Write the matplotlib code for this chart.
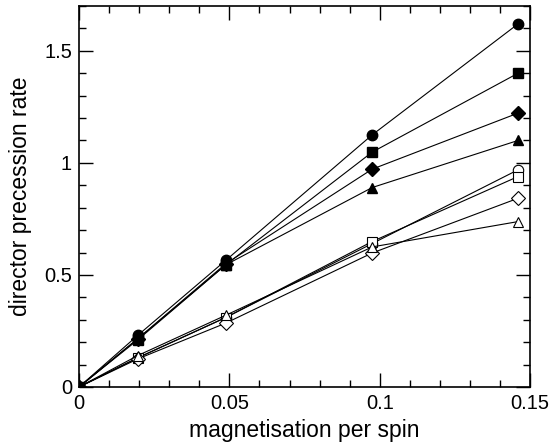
import numpy as np
import matplotlib.pyplot as plt
from matplotlib.ticker import MultipleLocator

plt.rcParams['font.family'] = ['Liberation Sans', 'DejaVu Sans']

# magnetisation per spin (same for every series)
m = [0.0, 0.0195, 0.0488, 0.0975, 0.146]

# director precession rate, filled symbols
rate_circle_f = [0.0, 0.23, 0.565, 1.125, 1.62]
rate_square_f = [0.0, 0.21, 0.545, 1.048, 1.40]
rate_diamond_f = [0.0, 0.215, 0.55, 0.972, 1.222]
rate_triangle_f = [0.0, 0.215, 0.545, 0.89, 1.10]

# open symbols
rate_circle_o = [0.0, 0.13, 0.31, 0.64, 0.969]
rate_square_o = [0.0, 0.13, 0.31, 0.649, 0.939]
rate_diamond_o = [0.0, 0.125, 0.285, 0.598, 0.842]
rate_triangle_o = [0.0, 0.14, 0.32, 0.625, 0.738]

xticks = [0, 0.05, 0.1, 0.15]
xticklabels = ['0', '0.05', '0.1', '0.15']
yticks = [0, 0.5, 1, 1.5]
yticklabels = ['0', '0.5', '1', '1.5']

fig = plt.figure(figsize=(5.51, 4.44), dpi=100)
ax = fig.add_axes([0.1434, 0.1284, 0.8186, 0.8581])

filled = [(rate_circle_f, 'o'), (rate_square_f, 's'),
          (rate_diamond_f, 'D'), (rate_triangle_f, '^')]
opened = [(rate_circle_o, 'o'), (rate_square_o, 's'),
          (rate_diamond_o, 'D'), (rate_triangle_o, '^')]

for y, mk in opened:
    ax.plot(m, y, color='k', linewidth=0.8, marker=mk, markersize=7.5,
            markerfacecolor='white', markeredgecolor='k', markeredgewidth=0.8)
for y, mk in filled:
    ax.plot(m, y, color='k', linewidth=0.8, marker=mk, markersize=7.5,
            markerfacecolor='k', markeredgecolor='k')

ax.set_xlim(0, 0.15)
ax.set_ylim(0, 1.7)
ax.xaxis.set_minor_locator(MultipleLocator(0.01))
ax.yaxis.set_minor_locator(MultipleLocator(0.1))
ax.set_xticks(xticks)
ax.set_xticklabels(xticklabels)
ax.set_yticks(yticks)
ax.set_yticklabels(yticklabels)
ax.tick_params(which='both', direction='in', top=True, right=True, labelsize=14.5, width=1, pad=5)
ax.tick_params(which='major', length=10)
ax.tick_params(which='minor', length=5)
for s in ax.spines.values():
    s.set_linewidth(1.2)

ax.set_xlabel('magnetisation per spin', fontsize=16.5)
ax.xaxis.set_label_coords(0.5, -0.085)
ax.set_ylabel('director precession rate', fontsize=16.5)
ax.yaxis.set_label_coords(-0.104, 0.5)

fig.savefig('out.png', dpi=100)
